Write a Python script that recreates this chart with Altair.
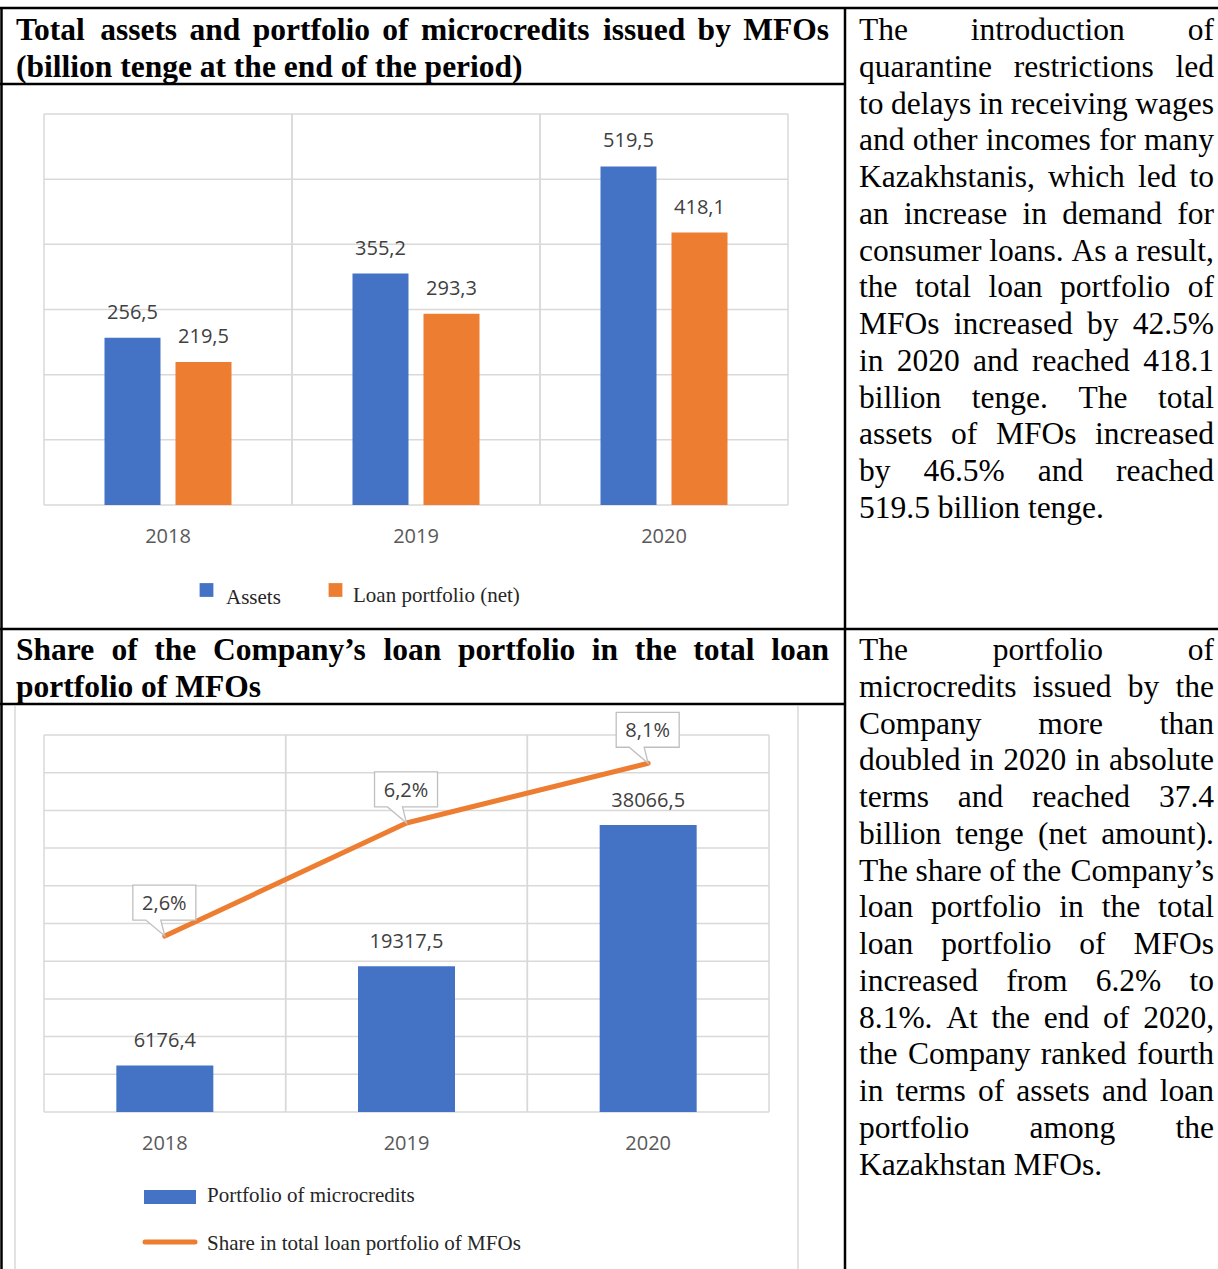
import altair as alt
import pandas as pd

# ---------------- data ----------------
years = ["2018", "2019", "2020"]
series1 = ["Assets", "Loan portfolio (net)"]
assets = [256.5, 355.2, 519.5]
loans = [219.5, 293.3, 418.1]
colors1 = ["#4472C4", "#ED7D31"]
y1_ticks = [0, 100, 200, 300, 400, 500, 600]

series2 = ["Portfolio of microcredits", "Share in total loan portfolio of MFOs"]
portfolio = [6176.4, 19317.5, 38066.5]
share = [0.026, 0.062, 0.081]
colors2 = ["#4472C4", "#ED7D31"]
y2_ticks = [0, 5000, 10000, 15000, 20000, 25000, 30000, 35000, 40000, 45000, 50000]

title1_lines = ["Total assets and portfolio of microcredits issued by MFOs",
                "(billion tenge at the end of the period)"]
title2_lines = ["Share of the Company\u2019s loan portfolio in the total loan",
                "portfolio of MFOs"]
text1_lines = ["The introduction of",
               "quarantine restrictions led",
               "to delays in receiving wages",
               "and other incomes for many",
               "Kazakhstanis, which led to",
               "an increase in demand for",
               "consumer loans. As a result,",
               "the total loan portfolio of",
               "MFOs increased by 42.5%",
               "in 2020 and reached 418.1",
               "billion tenge. The total",
               "assets of MFOs increased",
               "by 46.5% and reached",
               "519.5 billion tenge."]
text2_lines = ["The portfolio of",
               "microcredits issued by the",
               "Company more than",
               "doubled in 2020 in absolute",
               "terms and reached 37.4",
               "billion tenge (net amount).",
               "The share of the Company\u2019s",
               "loan portfolio in the total",
               "loan portfolio of MFOs",
               "increased from 6.2% to",
               "8.1%. At the end of 2020,",
               "the Company ranked fourth",
               "in terms of assets and loan",
               "portfolio among the",
               "Kazakhstan MFOs."]

# ---------------- text metrics (Times / Liberation Serif) ----------------
LOW = "abcdefghijklmnopqrstuvwxyz"
UP = "ABCDEFGHIJKLMNOPQRSTUVWXYZ"
REG = dict(zip(LOW, [444, 500, 444, 500, 444, 333, 500, 500, 278, 278, 500, 278, 778,
                     500, 500, 500, 500, 333, 389, 278, 500, 500, 722, 500, 500, 444]))
REG.update(zip(UP, [722, 667, 667, 722, 611, 556, 722, 722, 333, 389, 722, 611, 889,
                    722, 722, 556, 722, 667, 556, 611, 722, 722, 944, 722, 722, 611]))
BOLD = dict(zip(LOW, [500, 556, 444, 556, 444, 333, 500, 556, 278, 333, 556, 278, 833,
                      556, 500, 556, 556, 444, 389, 333, 556, 500, 722, 500, 500, 444]))
BOLD.update(zip(UP, [722, 667, 722, 722, 667, 611, 778, 778, 389, 500, 778, 667, 944,
                     722, 778, 611, 778, 722, 556, 667, 722, 722, 1000, 722, 722, 667]))
for tbl in (REG, BOLD):
    tbl.update({d: 500 for d in "0123456789"})
    tbl.update({" ": 250, ".": 250, ",": 250, "%": 833 if tbl is REG else 1000,
                "(": 333, ")": 333, "\u2019": 333, "-": 333})

SERIF = "Liberation Serif"
SANS = "Open Sans"
FS = 31.5
LINE = 36.75


def tw(s, bold):
    t = BOLD if bold else REG
    return sum(t.get(c, 500) for c in s) / 1000.0 * FS


def layout(lines, x0, x1, y0, bold):
    rows = []
    for i, line in enumerate(lines):
        y = y0 + i * LINE
        words = line.split(" ")
        if i == len(lines) - 1 or len(words) == 1:
            rows.append(dict(x=x0, y=y, t=line, bold=bold, al="left"))
            continue
        widths = [tw(w, bold) for w in words]
        gap = (x1 - x0 - sum(widths)) / (len(words) - 1)
        x = x0
        for j, (w, wd) in enumerate(zip(words, widths)):
            if j == len(words) - 1:
                rows.append(dict(x=x1, y=y, t=w, bold=bold, al="right"))
            else:
                rows.append(dict(x=x, y=y, t=w, bold=bold, al="left"))
            x += wd + gap
    return rows


words = pd.DataFrame(
    layout(title1_lines, 16, 829, 40, True)
    + layout(title2_lines, 16, 829, 660, True)
    + layout(text1_lines, 859, 1214, 40, False)
    + layout(text2_lines, 859, 1214, 660, False)
)


def word_layer(bold, align):
    sub = words[(words["bold"] == bold) & (words["al"] == align)].reset_index(drop=True)
    return alt.Chart(sub).mark_text(
        font=SERIF, fontSize=FS, fontWeight="bold" if bold else "normal",
        align=align, baseline="alphabetic", color="black"
    ).encode(x=alt.X("x:Q", scale=None), y=alt.Y("y:Q", scale=None), text="t:N")


text_layers = [word_layer(b, a) for b in (True, False) for a in ("left", "right")]

# ---------------- table borders ----------------
borders = pd.DataFrame([
    dict(x1=0, x2=1218, y1=8, y2=8),
    dict(x1=1.5, x2=1.5, y1=8, y2=1269),
    dict(x1=845, x2=845, y1=8, y2=1269),
    dict(x1=0, x2=845, y1=84, y2=84),
    dict(x1=0, x2=1218, y1=629, y2=629),
    dict(x1=0, x2=845, y1=704, y2=704),
])
border_layer = alt.Chart(borders).mark_rule(color="black", strokeWidth=2.5).encode(
    x=alt.X("x1:Q", scale=None), x2="x2:Q", y=alt.Y("y1:Q", scale=None), y2="y2:Q")

frame2 = pd.DataFrame([
    dict(x1=15, x2=15, y1=706, y2=1269),
    dict(x1=798, x2=798, y1=706, y2=1269),
])
frame2_layer = alt.Chart(frame2).mark_rule(color="#d9d9d9", strokeWidth=1.5).encode(
    x=alt.X("x1:Q", scale=None), x2="x2:Q", y=alt.Y("y1:Q", scale=None), y2="y2:Q")

GRID = "#d9d9d9"
LBL = "#404040"
AXL = "#595959"

# ---------------- chart 1 ----------------
df1 = pd.DataFrame({
    "year": years * 2,
    "series": [series1[0]] * 3 + [series1[1]] * 3,
    "value": assets + loans,
})
x1s = alt.Scale(domain=years, range=[44, 788], paddingInner=0, paddingOuter=0)
y1s = alt.Scale(domain=[0, 600], range=[505, 114], nice=False, zero=False)
off1 = alt.Scale(domain=series1, range=[60.5, 187.5], paddingInner=15 / 71, paddingOuter=0)
c1s = alt.Scale(domain=series1, range=colors1)

g1h = alt.Chart(pd.DataFrame({"v": y1_ticks})).mark_rule(color=GRID, strokeWidth=1.5).encode(
    y=alt.Y("v:Q", scale=y1s, axis=None), x=alt.value(44), x2=alt.value(788))
yrs1 = pd.DataFrame({"year": years})
g1v0 = alt.Chart(yrs1).mark_rule(color=GRID, strokeWidth=1.5).encode(
    x=alt.X("year:N", scale=x1s, axis=None, bandPosition=0), y=alt.value(114), y2=alt.value(505))
g1v1 = alt.Chart(yrs1).mark_rule(color=GRID, strokeWidth=1.5).encode(
    x=alt.X("year:N", scale=x1s, axis=None, bandPosition=1), y=alt.value(114), y2=alt.value(505))
bars1 = alt.Chart(df1).mark_bar().encode(
    x=alt.X("year:N", scale=x1s, axis=None),
    xOffset=alt.XOffset("series:N", scale=off1),
    y=alt.Y("value:Q", scale=y1s, axis=None),
    color=alt.Color("series:N", scale=c1s, legend=None),
)
lab1 = alt.Chart(df1).transform_calculate(
    lbl="replace(format(datum.value, '.1f'), '.', ',')"
).mark_text(font=SANS, fontSize=20, color=LBL, baseline="middle", dy=-25).encode(
    x=alt.X("year:N", scale=x1s, axis=None),
    xOffset=alt.XOffset("series:N", scale=off1),
    y=alt.Y("value:Q", scale=y1s, axis=None),
    text="lbl:N",
)
xl1 = alt.Chart(yrs1).mark_text(font=SANS, fontSize=20, color=AXL, baseline="middle").encode(
    x=alt.X("year:N", scale=x1s, axis=None), y=alt.value(537), text="year:N")

leg1 = pd.DataFrame({"series": series1, "sx": [206.5, 335.5], "sy": [590, 590],
                     "tx": [226, 353], "ty": [604, 602]})
leg1_sym = alt.Chart(leg1).mark_square(size=190, opacity=1).encode(
    x=alt.X("sx:Q", scale=None), y=alt.Y("sy:Q", scale=None),
    color=alt.Color("series:N", scale=c1s, legend=None))
leg1_txt = alt.Chart(leg1).mark_text(font=SERIF, fontSize=21, align="left", baseline="alphabetic",
                                     color="#262626").encode(
    x=alt.X("tx:Q", scale=None), y=alt.Y("ty:Q", scale=None), text="series:N")

# ---------------- chart 2 ----------------
df2 = pd.DataFrame({"year": years, "portfolio": portfolio, "share": share})
x2s = alt.Scale(domain=years, range=[44, 769], paddingInner=0, paddingOuter=0)
y2s = alt.Scale(domain=[0, 50000], range=[1112, 735], nice=False, zero=False)
s2s = alt.Scale(domain=[-0.03, 0.09], range=[1112, 735], nice=False, zero=False)

g2h = alt.Chart(pd.DataFrame({"v": y2_ticks})).mark_rule(color=GRID, strokeWidth=1.5).encode(
    y=alt.Y("v:Q", scale=y2s, axis=None), x=alt.value(44), x2=alt.value(769))
g2v0 = alt.Chart(yrs1).mark_rule(color=GRID, strokeWidth=1.5).encode(
    x=alt.X("year:N", scale=x2s, axis=None, bandPosition=0), y=alt.value(735), y2=alt.value(1112))
g2v1 = alt.Chart(yrs1).mark_rule(color=GRID, strokeWidth=1.5).encode(
    x=alt.X("year:N", scale=x2s, axis=None, bandPosition=1), y=alt.value(735), y2=alt.value(1112))
bars2 = alt.Chart(df2).mark_bar(width=97, color=colors2[0]).encode(
    x=alt.X("year:N", scale=x2s, axis=None),
    y=alt.Y("portfolio:Q", scale=y2s, axis=None),
)
lab2 = alt.Chart(df2).transform_calculate(
    lbl="replace(format(datum.portfolio, '.1f'), '.', ',')"
).mark_text(font=SANS, fontSize=20, color=LBL, baseline="middle", dy=-24).encode(
    x=alt.X("year:N", scale=x2s, axis=None),
    y=alt.Y("portfolio:Q", scale=y2s, axis=None),
    text="lbl:N",
)
line2 = alt.Chart(df2).mark_line(color=colors2[1], strokeWidth=5, strokeCap="round",
                                 strokeJoin="round").encode(
    x=alt.X("year:N", scale=x2s, axis=None),
    y=alt.Y("share:Q", scale=s2s, axis=None),
)
CALLOUT = "M-0.533,-0.85H0.517V-0.267H-0.067L0,0L-0.317,-0.267H-0.533Z"
call2 = alt.Chart(df2).mark_point(shape=CALLOUT, size=14400, filled=True, fill="white",
                                  stroke="#bfbfbf", strokeWidth=1.3, opacity=1).encode(
    x=alt.X("year:N", scale=x2s, axis=None),
    y=alt.Y("share:Q", scale=s2s, axis=None),
)
calltxt2 = alt.Chart(df2).transform_calculate(
    lbl="replace(format(datum.share * 100, '.1f'), '.', ',') + '%'"
).mark_text(font=SANS, fontSize=20, color=LBL, baseline="middle", dy=-32, dx=-0.5).encode(
    x=alt.X("year:N", scale=x2s, axis=None),
    y=alt.Y("share:Q", scale=s2s, axis=None),
    text="lbl:N",
)
xl2 = alt.Chart(yrs1).mark_text(font=SANS, fontSize=20, color=AXL, baseline="middle").encode(
    x=alt.X("year:N", scale=x2s, axis=None), y=alt.value(1144), text="year:N")

leg2 = pd.DataFrame({"series": series2, "tx": [207, 207], "ty": [1202, 1250]})
leg2_bar = alt.Chart(leg2.iloc[[0]]).mark_rect(color=colors2[0]).encode(
    x=alt.value(144), x2=alt.value(196), y=alt.value(1190), y2=alt.value(1204))
leg2_line = alt.Chart(leg2.iloc[[1]]).mark_rule(color=colors2[1], strokeWidth=5,
                                                strokeCap="round").encode(
    x=alt.value(145), x2=alt.value(195), y=alt.value(1242))
leg2_txt = alt.Chart(leg2).mark_text(font=SERIF, fontSize=21, align="left", baseline="alphabetic",
                                     color="#262626").encode(
    x=alt.X("tx:Q", scale=None), y=alt.Y("ty:Q", scale=None), text="series:N")

layers = ([frame2_layer, g1h, g1v0, g1v1, bars1, lab1, xl1, leg1_sym, leg1_txt,
           g2h, g2v0, g2v1, bars2, lab2, line2, call2, calltxt2, xl2,
           leg2_bar, leg2_line, leg2_txt, border_layer] + text_layers)

chart = alt.layer(*layers).resolve_scale(
    x="independent", y="independent", color="independent"
).properties(
    width=1218, height=1269, padding=0,
    autosize=alt.AutoSizeParams(type="none"), background="white"
).configure_view(stroke=None)

chart.save("out.html", embed_options={"renderer": "svg", "actions": False})
